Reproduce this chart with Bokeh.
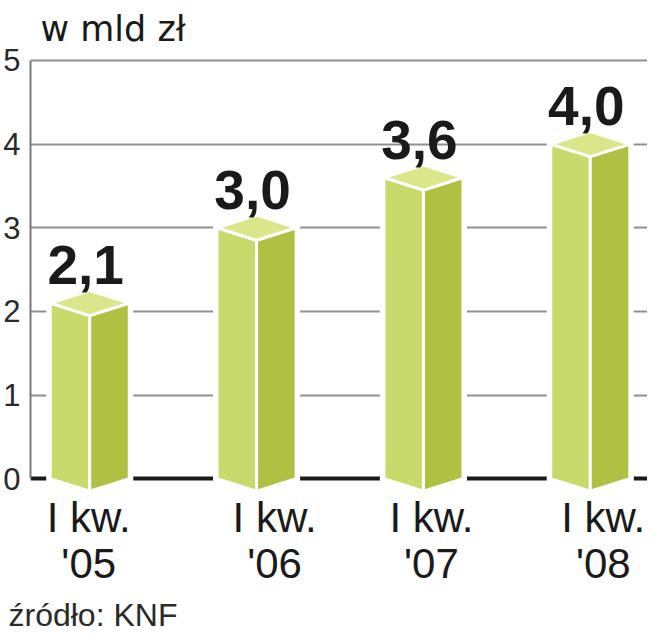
from bokeh.plotting import figure
from bokeh.models import FixedTicker, Label, Title
from bokeh.core.properties import value
from bokeh.embed import file_html
from bokeh.resources import INLINE

# ---- data ----
quarters = ["I kw.", "I kw.", "I kw.", "I kw."]
years = ["'05", "'06", "'07", "'08"]
values = [2.1, 3.0, 3.6, 4.0]
value_labels = ["2,1", "3,0", "3,6", "4,0"]
y_ticks = [0, 1, 2, 3, 4, 5]
title_text = "w mld zł"
source_text = "źródło: KNF"

# ---- styling / layout ----
W, H = 647, 632
FRAME_H = 595
FONT = "Liberation Sans"
LEFT_C, RIGHT_C, TOP_C = "#c9da6c", "#afc042", "#dbe68a"
label_shift = [-1, 18, 8, 13]
hw = 0.237   # half bar width (x units)
d = 0.15     # depth of top rhombus (y units)

xs = list(range(len(values)))

p = figure(width=W, height=H, output_backend="svg", toolbar_location=None,
           x_axis_type=None, x_range=(-0.355, 3.343), y_range=(-1.384, 5.716),
           min_border_left=22, min_border_right=0, min_border_top=0, min_border_bottom=0)
p.outline_line_color = None
p.background_fill_color = "white"
p.border_fill_color = "white"

# grid
p.ygrid.ticker = FixedTicker(ticks=y_ticks[1:])
p.ygrid.grid_line_color = "#8f8f8f"
p.ygrid.grid_line_width = 2
p.xgrid.grid_line_color = None

# y axis
ax = p.yaxis[0]
ax.ticker = FixedTicker(ticks=y_ticks)
ax.bounds = (0, 5)
ax.axis_line_color = "#7a7a7a"
ax.axis_line_width = 2
ax.major_tick_line_color = None
ax.minor_tick_line_color = None
ax.major_label_text_font = FONT
ax.major_label_text_font_size = "31px"
ax.major_label_text_color = "#2a2a2a"
ax.major_label_standoff = 4

# baseline
p.hspan(y=[0], line_color="#1a1a1a", line_width=4)

# bars as prisms
sil_x, sil_y, lx, ly, rx, ry, tx, ty = [], [], [], [], [], [], [], []
for x, v in zip(xs, values):
    sil_x.append([x - hw, x, x + hw, x + hw, x, x - hw])
    sil_y.append([0, -d, 0, v, v + d, v])
    lx.append([x - hw, x, x, x - hw]); ly.append([0, -d, v - d, v])
    rx.append([x, x + hw, x + hw, x]); ry.append([-d, 0, v, v - d])
    tx.append([x - hw, x, x + hw, x]); ty.append([v, v + d, v, v - d])

p.patches(sil_x, sil_y, fill_color="white", line_color="white", line_width=8, line_join="miter")
p.patches(lx, ly, fill_color=LEFT_C, line_color="white", line_width=3)
p.patches(rx, ry, fill_color=RIGHT_C, line_color="white", line_width=3)
p.patches(tx, ty, fill_color=TOP_C, line_color="white", line_width=3)

# value labels
p.text(x=xs, y=values, text=value_labels, x_offset=-4, y_offset=-38,
       text_align="center", text_baseline="alphabetic",
       text_font=value(FONT), text_font_style="bold",
       text_font_size="55px", text_color="#1a1a1a")

# category labels
p.text(x=xs, y=[0] * len(xs), text=quarters, x_offset=label_shift, y_offset=39,
       text_align="center", text_baseline="alphabetic",
       text_font=value(FONT), text_font_size="42px", text_color="#1a1a1a")
p.text(x=xs, y=[0] * len(xs), text=years, x_offset=label_shift, y_offset=85,
       text_align="center", text_baseline="alphabetic",
       text_font=value(FONT), text_font_size="42px", text_color="#1a1a1a")

# title
p.add_layout(Label(x=10, y=FRAME_H - 29, x_units="screen", y_units="screen", text=title_text,
                   text_font="DejaVu Sans", text_font_size="35px", text_color="#1a1a1a",
                   text_baseline="alphabetic"))
# source
p.add_layout(Title(text=source_text, align="left", offset=-22, standoff=0,
                   text_font=FONT, text_font_size="32px", text_font_style="normal",
                   text_color="#2a2a2a", vertical_align="bottom"), "below")

open("out.html", "w").write(file_html(p, INLINE))
